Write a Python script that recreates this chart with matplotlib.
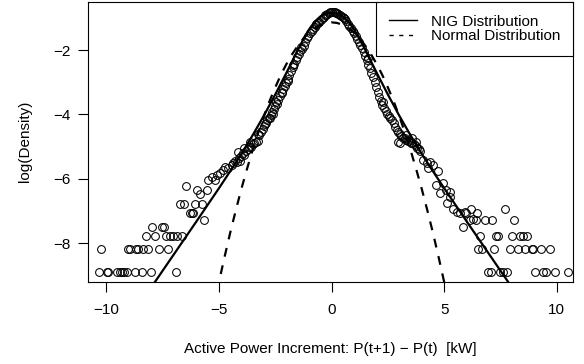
import numpy as np
import matplotlib
matplotlib.use("Agg")
import matplotlib.pyplot as plt
from matplotlib.lines import Line2D

plt.rcParams['font.family'] = ['Liberation Sans', 'DejaVu Sans']
plt.rcParams['font.size'] = 11

centre_x = [-4.44, -4.37, -4.30, -4.22, -4.15, -4.10, -4.02, -3.95, -3.88, -3.80,
            -3.72, -3.66, -3.58, -3.50, -3.43, -3.36, -3.28, -3.21, -3.14, -3.06,
            -2.99, -2.92, -2.85, -2.78, -2.71, -2.64, -2.57, -2.50, -2.43, -2.36,
            -2.29, -2.22, -2.15, -2.08, -2.01, -1.94, -1.87, -1.80, -1.73, -1.66,
            -1.59, -1.52, -1.45, -1.38, -1.31, -1.24, -1.17, -1.10, -1.03, -0.96,
            -0.89, -0.82, -0.75, -0.68, -0.61, -0.54, -0.47, -0.40, -0.33, -0.26,
            -0.19, -0.12, -0.05, 0.02,
            0.09, 0.16, 0.23, 0.30, 0.37, 0.44, 0.51, 0.58, 0.65, 0.72,
            0.79, 0.86, 0.93, 1.00, 1.07, 1.14, 1.21, 1.28, 1.35, 1.42,
            1.49, 1.56, 1.63, 1.70, 1.77, 1.84, 1.91, 1.98, 2.05, 2.12,
            2.19, 2.26, 2.33, 2.40, 2.47, 2.54, 2.61, 2.68, 2.75, 2.82,
            2.89, 2.96, 3.03, 3.10, 3.17, 3.24, 3.31, 3.38, 3.45, 3.52,
            3.59, 3.66, 3.73, 3.80, 3.87, 3.94]
centre_y = [-5.57, -5.52, -5.45, -5.47, -5.16, -5.35, -5.28, -5.20, -5.25, -5.12,
            -5.08, -5.02, -5.00, -4.93, -4.88, -4.85, -4.82, -4.64, -4.55, -4.46,
            -4.37, -4.27, -4.18, -4.10, -4.02, -3.93, -3.84, -3.75, -3.66, -3.55,
            -3.43, -3.32, -3.21, -3.11, -3.01, -2.90, -2.78, -2.66, -2.54, -2.42,
            -2.32, -2.22, -2.12, -2.02, -1.96, -1.88, -1.75, -1.62, -1.55, -1.47,
            -1.40, -1.34, -1.28, -1.22, -1.17, -1.12, -1.07, -1.02, -0.97, -0.92,
            -0.88, -0.85, -0.82, -0.81,
            -0.81, -0.82, -0.84, -0.87, -0.90, -0.94, -0.98, -1.04, -1.11, -1.18,
            -1.26, -1.33, -1.40, -1.48, -1.56, -1.65, -1.74, -1.84, -1.95, -2.07,
            -2.20, -2.32, -2.45, -2.57, -2.70, -2.84, -2.99, -3.14, -3.30, -3.45,
            -3.59, -3.70, -3.80, -3.90, -3.98, -4.06, -4.12, -4.18, -4.27, -4.38,
            -4.47, -4.55, -4.60, -4.66, -4.72, -4.74, -4.78, -4.81, -4.83, -4.87,
            -4.90, -4.93, -4.98, -5.04, -5.08, -5.13]

# scattered extra points along both flanks
extra_x = [-2.45, -2.75, -2.95, -3.25, -3.60, -3.90, -4.05, -2.20, -2.60,
           -1.95, -1.70, -1.35, -0.70, -0.30, 0.20, 0.55,
           2.95, 3.05, 3.30, 3.55, 3.75, 2.30, 1.60]
extra_y = [-3.62, -4.10, -4.30, -4.60, -4.85, -5.05, -5.45, -3.30, -4.00,
           -2.95, -2.45, -1.90, -1.20, -0.90, -0.86, -1.02,
           -4.85, -4.90, -4.65, -4.72, -4.85, -3.62, -2.25]

# empirical log density - left tail
left_x = [-5.48, -5.33, -5.18, -5.10, -4.96, -4.81, -4.74, -4.59,
          -6.47, -5.97, -5.55, -5.85,
          -6.73, -6.56, -6.07, -5.73,
          -6.29, -6.21, -6.14, -5.67,
          -7.95, -7.55, -7.44,
          -8.24, -7.84, -7.35, -7.18, -7.03, -6.88, -6.66,
          -10.25, -9.03, -8.95, -8.69, -8.58, -8.36, -8.14, -7.65, -7.25,
          -10.32, -9.99, -9.92, -9.54, -9.40, -9.29, -9.22, -9.10, -8.73, -8.43, -8.03, -6.92]
left_y = [-6.04, -5.93, -6.04, -5.88, -5.83, -5.73, -5.62, -5.67,
          -6.22, -6.33, -6.33, -6.48,
          -6.78, -6.78, -6.78, -6.78,
          -7.07, -7.07, -7.07, -7.26,
          -7.49, -7.49, -7.49,
          -7.78, -7.78, -7.78, -7.78, -7.78, -7.78, -7.78,
          -8.18, -8.18, -8.18, -8.18, -8.18, -8.18, -8.18, -8.18, -8.18,
          -8.89, -8.89, -8.89, -8.89, -8.89, -8.89, -8.89, -8.89, -8.89, -8.89, -8.89, -8.89]

# empirical log density - right tail
right_x = [4.07, 4.22, 4.36, 4.51, 4.29, 4.73, 4.63, 4.93, 4.81, 5.07,
           5.25, 5.28, 5.13, 5.40, 5.55, 5.69, 5.92, 5.99, 6.21, 6.44,
           6.29, 6.14, 6.40, 5.84, 6.80, 7.14, 7.72, 8.10,
           6.61, 7.32, 7.39, 7.99, 8.36, 8.50, 8.66,
           6.51, 6.70, 7.20, 7.91, 8.28, 8.58, 8.88, 8.95, 9.32, 9.69,
           6.95, 7.06, 7.47, 7.59, 7.77, 9.02, 9.39, 9.54, 9.91, 10.50]
right_y = [-5.42, -5.52, -5.47, -5.57, -5.67, -5.75, -6.19, -6.12, -6.45, -6.35,
           -6.40, -6.56, -6.76, -6.92, -7.02, -7.07, -7.02, -7.07, -6.92, -7.07,
           -7.23, -7.28, -7.28, -7.49, -7.28, -7.28, -6.94, -7.28,
           -7.78, -7.78, -7.78, -7.78, -7.78, -7.78, -7.78,
           -8.18, -8.18, -8.18, -8.18, -8.18, -8.18, -8.18, -8.18, -8.18, -8.18,
           -8.89, -8.89, -8.89, -8.89, -8.89, -8.89, -8.89, -8.89, -8.89, -8.89]

# fitted NIG log density
nig_x = [-8.0, -7.0, -6.0, -5.0, -4.5, -4.0, -3.5, -3.0, -2.5, -2.0, -1.75, -1.5,
         -1.25, -1.0, -0.75, -0.5, -0.25, 0.0, 0.25, 0.5, 0.75, 1.0, 1.25, 1.5,
         1.75, 2.0, 2.5, 3.0, 3.5, 4.0, 4.5, 5.0, 6.0, 7.0, 8.0]
nig_y = [-9.36, -8.34, -7.32, -6.29, -5.76, -5.22, -4.64, -4.03, -3.38, -2.70, -2.35, -2.00,
         -1.67, -1.36, -1.12, -0.96, -0.87, -0.84, -0.87, -0.96, -1.12, -1.36, -1.67, -2.00,
         -2.35, -2.70, -3.38, -4.03, -4.64, -5.22, -5.76, -6.29, -7.32, -8.34, -9.36]

# fitted normal log density
norm_x = [-5.25, -5.0, -4.75, -4.5, -4.25, -4.0, -3.75, -3.5, -3.25, -3.0, -2.75, -2.5,
          -2.25, -2.0, -1.75, -1.5, -1.25, -1.0, -0.75, -0.5, -0.25, 0.0,
          0.25, 0.5, 0.75, 1.0, 1.25, 1.5, 1.75, 2.0, 2.25, 2.5, 2.75, 3.0,
          3.25, 3.5, 3.75, 4.0, 4.25, 4.5, 4.75, 5.0, 5.25]
norm_y = [-10.03, -9.20, -8.42, -7.67, -6.97, -6.30, -5.68, -5.09, -4.55, -4.04, -3.58, -3.16,
          -2.77, -2.43, -2.13, -1.87, -1.64, -1.46, -1.32, -1.22, -1.16, -1.14,
          -1.16, -1.22, -1.32, -1.46, -1.64, -1.87, -2.13, -2.43, -2.77, -3.16, -3.58, -4.04,
          -4.55, -5.09, -5.68, -6.30, -6.97, -7.67, -8.42, -9.20, -10.03]

fig = plt.figure(figsize=(5.84, 3.64), dpi=100)
ax = fig.add_axes([0.1512, 0.2261, 0.83, 0.7692])

pts = dict(linestyle='none', marker='o', mfc='none', mec='black', ms=5.6, mew=0.75)
ax.plot(centre_x, centre_y, **pts)
ax.plot(extra_x, extra_y, **pts)
ax.plot(left_x, left_y, **pts)
ax.plot(right_x, right_y, **pts)

ax.plot(nig_x, nig_y, color='black', lw=1.6)
ax.plot(norm_x, norm_y, color='black', lw=1.6, dashes=(4, 4))

ax.set_xlim(-10.8, 10.72)
ax.set_ylim(-9.19, -0.5)
ax.set_xticks([-10, -5, 0, 5, 10])
ax.set_yticks([-8, -6, -4, -2])
ax.tick_params(direction='out', length=7, width=0.8, colors='black')
ax.tick_params(axis='x', pad=8)
ax.tick_params(axis='y', pad=5.5)
for s in ax.spines.values():
    s.set_linewidth(0.8)

fig.text(0.566, 0.042, "Active Power Increment: P(t+1) \u2212 P(t)  [kW]",
         ha='center', va='center')
fig.text(0.043, 0.611, "log(Density)", rotation=90, ha='center', va='center')

handles = [Line2D([], [], color='black', lw=1.0),
           Line2D([], [], color='black', lw=1.0, dashes=(3, 4))]
leg = ax.legend(handles, ["NIG Distribution", "Normal Distribution"],
                loc='upper right', bbox_to_anchor=(1, 1), borderaxespad=0,
                fancybox=False, framealpha=1, edgecolor='black',
                handlelength=1.85, handletextpad=0.9, borderpad=0.85,
                labelspacing=0.05)
leg.get_frame().set_linewidth(0.8)

fig.savefig("out.png", dpi=100)
